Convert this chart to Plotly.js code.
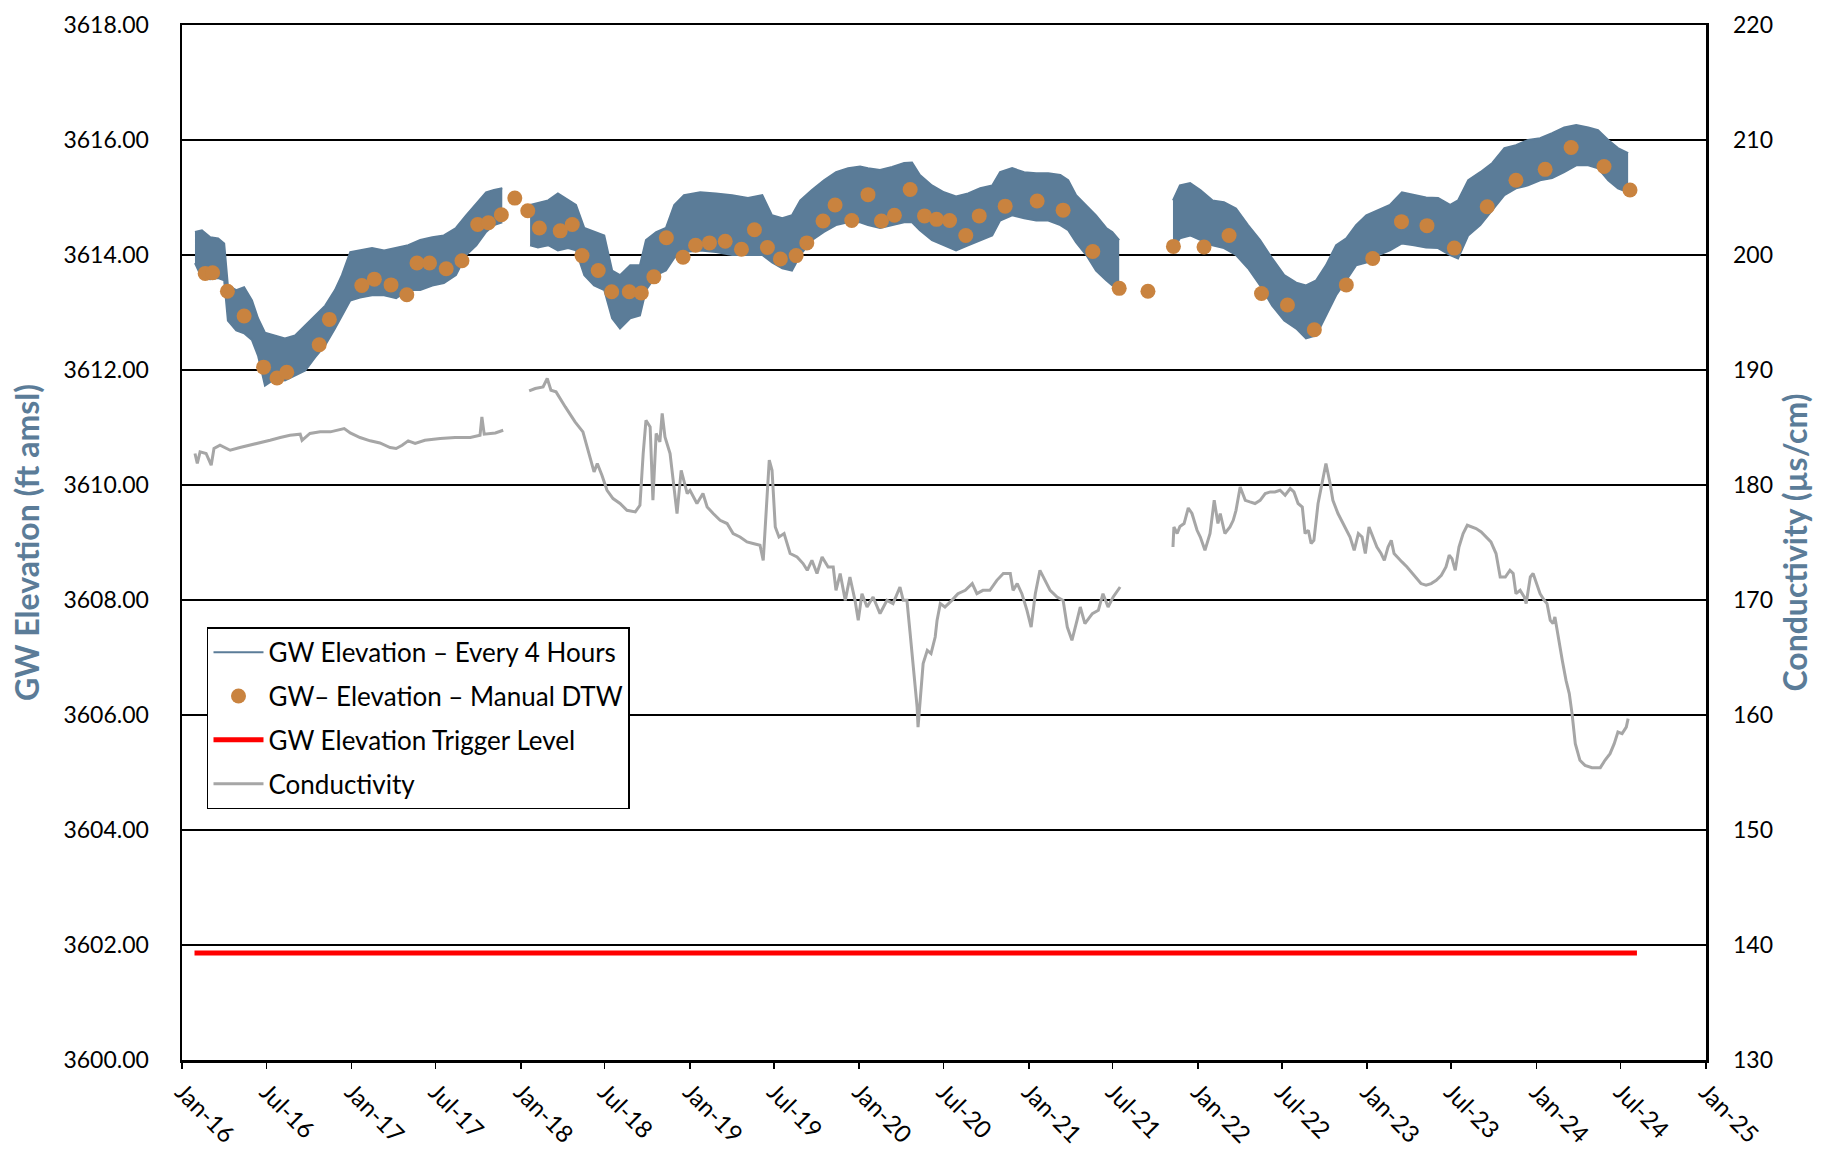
<!DOCTYPE html>
<html>
<head>
<meta charset="utf-8">
<script src="https://cdn.plot.ly/plotly-3.0.1.min.js"></script>
<style>html,body{margin:0;padding:0;background:#fff;}#chart{width:1832px;height:1152px;}</style>
</head>
<body>
<div id="chart"></div>
<script>
// ---- GW elevation every 4 hours: envelope (daily high / low) per continuous logger segment ----
const gwSeg1Dates = ['2016-01-29','2016-02-13','2016-03-02','2016-03-19','2016-04-01','2016-04-09','2016-04-27','2016-05-14','2016-05-31','2016-06-13','2016-06-28','2016-07-20','2016-08-10','2016-09-01','2016-09-23','2016-10-14','2016-11-05','2016-11-26','2016-12-11','2016-12-29','2017-01-19','2017-02-14','2017-03-12','2017-04-07','2017-05-03','2017-05-29','2017-06-24','2017-07-19','2017-08-14','2017-09-05','2017-09-27','2017-10-18','2017-11-04','2017-11-22'];
const gwSeg1High = [3614.40,3614.43,3614.31,3614.29,3614.20,3613.47,3613.39,3613.44,3613.21,3612.90,3612.65,3612.60,3612.55,3612.60,3612.78,3612.95,3613.12,3613.39,3613.65,3614.05,3614.08,3614.12,3614.08,3614.13,3614.17,3614.26,3614.31,3614.34,3614.47,3614.69,3614.90,3615.09,3615.13,3615.16];
const gwSeg1Low  = [3613.86,3613.60,3613.58,3613.60,3613.56,3612.86,3612.69,3612.64,3612.52,3612.25,3611.73,3611.85,3611.82,3611.90,3611.99,3612.22,3612.43,3612.72,3612.95,3613.21,3613.26,3613.30,3613.30,3613.25,3613.39,3613.39,3613.47,3613.51,3613.65,3614.00,3614.17,3614.40,3614.52,3614.57];

const gwSeg2Dates = ['2018-01-21','2018-02-07','2018-03-01','2018-03-22','2018-04-13','2018-04-30','2018-05-18','2018-06-08','2018-06-30','2018-07-17','2018-08-03','2018-08-25','2018-09-15','2018-09-28','2018-10-20','2018-11-10','2018-11-28','2018-12-19','2019-01-23','2019-02-26','2019-04-02','2019-05-06','2019-06-06','2019-06-27','2019-07-19','2019-08-09','2019-08-27','2019-09-21','2019-10-17','2019-11-12','2019-12-08','2020-01-03','2020-01-20','2020-02-15','2020-03-12','2020-04-07','2020-04-24','2020-05-11','2020-06-06','2020-07-02','2020-07-28','2020-08-23','2020-09-18','2020-10-14','2020-10-31','2020-11-26','2020-12-22','2021-01-17','2021-02-12','2021-03-10','2021-03-27','2021-04-13','2021-05-05','2021-05-26','2021-06-17','2021-06-30','2021-07-15'];
const gwSeg2High = [3614.87,3614.90,3614.95,3615.07,3614.95,3614.87,3614.47,3614.40,3614.34,3613.73,3613.65,3613.82,3613.82,3614.26,3614.40,3614.47,3614.87,3615.04,3615.09,3615.07,3615.04,3614.99,3615.04,3614.69,3614.64,3614.69,3614.95,3615.13,3615.30,3615.44,3615.51,3615.54,3615.51,3615.48,3615.53,3615.60,3615.61,3615.39,3615.21,3615.09,3615.02,3615.07,3615.16,3615.21,3615.44,3615.51,3615.44,3615.42,3615.42,3615.39,3615.30,3615.04,3614.87,3614.69,3614.47,3614.40,3614.26];
const gwSeg2Low  = [3614.17,3614.13,3614.17,3614.08,3614.12,3614.08,3613.65,3613.47,3613.39,3612.90,3612.72,3612.90,3612.95,3613.39,3613.65,3613.73,3613.95,3614.05,3614.08,3614.05,3614.00,3614.00,3614.00,3613.87,3613.77,3613.73,3614.00,3614.26,3614.40,3614.52,3614.57,3614.57,3614.52,3614.47,3614.52,3614.57,3614.57,3614.43,3614.26,3614.17,3614.08,3614.17,3614.26,3614.34,3614.60,3614.69,3614.64,3614.60,3614.60,3614.52,3614.43,3614.22,3614.00,3613.73,3613.56,3613.47,3613.51];

const gwSeg3Dates = ['2021-11-08','2021-11-23','2021-12-15','2022-01-06','2022-02-01','2022-02-26','2022-03-24','2022-04-19','2022-05-15','2022-06-10','2022-07-06','2022-08-01','2022-08-22','2022-09-13','2022-10-04','2022-10-26','2022-11-17','2022-12-08','2022-12-30','2023-01-25','2023-02-19','2023-03-17','2023-04-12','2023-05-08','2023-06-03','2023-06-29','2023-07-16','2023-08-07','2023-09-02','2023-09-28','2023-10-24','2023-11-18','2023-12-14','2024-01-09','2024-02-04','2024-03-01','2024-03-27','2024-04-22','2024-05-13','2024-06-04','2024-06-25','2024-07-17'];
const gwSeg3High = [3614.95,3615.21,3615.25,3615.13,3614.95,3614.92,3614.81,3614.52,3614.26,3613.94,3613.65,3613.52,3613.47,3613.56,3613.82,3614.17,3614.29,3614.52,3614.69,3614.78,3614.87,3615.09,3615.04,3615.00,3614.99,3614.87,3614.95,3615.30,3615.44,3615.60,3615.86,3615.91,3616.00,3616.03,3616.12,3616.22,3616.26,3616.22,3616.17,3616.00,3615.86,3615.77];
const gwSeg3Low  = [3614.08,3614.29,3614.34,3614.26,3614.17,3614.12,3614.00,3613.77,3613.47,3613.12,3612.86,3612.72,3612.55,3612.60,3612.95,3613.30,3613.56,3613.82,3613.87,3614.00,3614.08,3614.20,3614.17,3614.13,3614.12,3614.00,3613.94,3614.34,3614.52,3614.78,3615.04,3615.16,3615.21,3615.30,3615.34,3615.44,3615.56,3615.56,3615.51,3615.30,3615.16,3615.09];

// ---- Manual depth-to-water elevations ----
const manualDates = ['2016-02-20','2016-03-07','2016-04-08','2016-05-14','2016-06-25','2016-07-24','2016-08-14','2016-10-23','2016-11-14','2017-01-23','2017-02-19','2017-03-27','2017-04-30','2017-05-22','2017-06-18','2017-07-24','2017-08-27','2017-09-30','2017-10-23','2017-11-20','2017-12-19','2018-01-16','2018-02-10','2018-03-27','2018-04-22','2018-05-13','2018-06-17','2018-07-16','2018-08-23','2018-09-18','2018-10-15','2018-11-11','2018-12-17','2019-01-13','2019-02-12','2019-03-18','2019-04-22','2019-05-20','2019-06-17','2019-07-15','2019-08-18','2019-09-10','2019-10-15','2019-11-10','2019-12-16','2020-01-20','2020-02-18','2020-03-17','2020-04-20','2020-05-21','2020-06-16','2020-07-14','2020-08-18','2020-09-16','2020-11-11','2021-01-19','2021-03-16','2021-05-19','2021-07-15','2021-09-15','2021-11-09','2022-01-14','2022-03-09','2022-05-18','2022-07-13','2022-09-09','2022-11-17','2023-01-13','2023-03-16','2023-05-10','2023-07-08','2023-09-17','2023-11-18','2024-01-20','2024-03-16','2024-05-26','2024-07-21'];
const manualElev = [3613.68,3613.69,3613.37,3612.94,3612.05,3611.86,3611.96,3612.44,3612.88,3613.47,3613.58,3613.48,3613.31,3613.86,3613.86,3613.76,3613.90,3614.53,3614.56,3614.70,3614.99,3614.77,3614.47,3614.42,3614.53,3613.99,3613.73,3613.36,3613.36,3613.34,3613.62,3614.30,3613.96,3614.17,3614.21,3614.24,3614.10,3614.44,3614.13,3613.93,3613.99,3614.21,3614.59,3614.87,3614.60,3615.05,3614.59,3614.69,3615.14,3614.68,3614.62,3614.60,3614.34,3614.68,3614.85,3614.94,3614.78,3614.06,3613.42,3613.37,3614.15,3614.14,3614.34,3613.33,3613.13,3612.70,3613.48,3613.94,3614.58,3614.51,3614.12,3614.84,3615.30,3615.49,3615.87,3615.54,3615.13];

// ---- Trigger level ----
const triggerDates = ['2016-01-28','2024-08-05'];
const triggerLevel = [3601.86, 3601.86];

// ---- Conductivity (µs/cm), right axis ----
const condDates = ['2016-01-29','2016-02-03','2016-02-09','2016-02-22','2016-03-04','2016-03-10','2016-03-23','2016-04-14','2016-05-05','2016-05-27','2016-06-17','2016-07-09','2016-07-31','2016-08-21','2016-09-12','2016-09-16','2016-10-03','2016-10-25','2016-11-16','2016-12-07','2016-12-16','2016-12-29','2017-01-19','2017-02-10','2017-03-03','2017-03-25','2017-04-07','2017-04-20','2017-05-03','2017-05-18','2017-06-08','2017-07-11','2017-08-12','2017-09-14','2017-10-05','2017-10-09','2017-10-14','2017-11-07','2017-11-24',
null,
'2018-01-19','2018-02-01','2018-02-18','2018-02-27','2018-03-07','2018-03-18','2018-04-07','2018-04-28','2018-05-15','2018-05-30','2018-06-08','2018-06-15','2018-06-25','2018-07-06','2018-07-19','2018-08-03','2018-08-18','2018-09-05','2018-09-15','2018-09-22','2018-09-28','2018-10-07','2018-10-13','2018-10-20','2018-10-28','2018-11-02','2018-11-08','2018-11-19','2018-11-28','2018-12-04','2018-12-13','2018-12-26','2019-01-01','2019-01-16','2019-01-29','2019-02-07','2019-02-20','2019-03-07','2019-03-22','2019-04-04','2019-04-19','2019-05-04','2019-05-17','2019-06-01','2019-06-08','2019-06-14','2019-06-21','2019-06-27','2019-07-04','2019-07-12','2019-07-23','2019-08-05','2019-08-20','2019-09-02','2019-09-11','2019-09-21','2019-10-02','2019-10-13','2019-10-26','2019-11-06','2019-11-12','2019-11-21','2019-12-02','2019-12-12','2019-12-23','2019-12-30','2020-01-07','2020-01-18','2020-01-31','2020-02-15','2020-03-01','2020-03-14','2020-03-29','2020-04-05','2020-04-13','2020-04-20','2020-04-26','2020-05-05','2020-05-07','2020-05-14','2020-05-18','2020-05-27','2020-06-04','2020-06-13','2020-06-17','2020-06-24','2020-07-04','2020-07-19','2020-08-01','2020-08-17','2020-09-01','2020-09-11','2020-09-24','2020-10-09','2020-10-24','2020-11-07','2020-11-22','2020-11-28','2020-12-07','2020-12-17','2020-12-28','2021-01-06','2021-01-15','2021-01-25','2021-02-05','2021-02-16','2021-03-03','2021-03-16','2021-03-25','2021-04-04','2021-04-15','2021-04-22','2021-05-02','2021-05-18','2021-05-31','2021-06-10','2021-06-21','2021-07-02','2021-07-17',
null,
'2021-11-08','2021-11-10','2021-11-17','2021-11-23','2021-12-02','2021-12-11','2021-12-19','2021-12-30','2022-01-06','2022-01-16','2022-01-27','2022-02-05','2022-02-13','2022-02-18','2022-02-28','2022-03-11','2022-03-18','2022-03-24','2022-04-02','2022-04-13','2022-04-23','2022-05-04','2022-05-15','2022-05-26','2022-06-06','2022-06-16','2022-06-27','2022-07-08','2022-07-19','2022-07-27','2022-08-05','2022-08-14','2022-08-20','2022-08-27','2022-09-02','2022-09-08','2022-09-17','2022-09-24','2022-10-04','2022-10-13','2022-10-19','2022-10-30','2022-11-10','2022-11-19','2022-11-25','2022-12-04','2022-12-13','2022-12-21','2022-12-28','2023-01-05','2023-01-14','2023-01-22','2023-01-31','2023-02-07','2023-02-15','2023-02-22','2023-02-28','2023-03-09','2023-03-17','2023-03-28','2023-04-06','2023-04-17','2023-04-27','2023-05-08','2023-05-19','2023-05-30','2023-06-10','2023-06-20','2023-06-27','2023-07-03','2023-07-10','2023-07-18','2023-07-27','2023-08-05','2023-08-13','2023-08-24','2023-09-04','2023-09-15','2023-09-25','2023-10-06','2023-10-15','2023-10-26','2023-11-05','2023-11-12','2023-11-18','2023-11-27','2023-12-06','2023-12-10','2023-12-19','2023-12-25','2024-01-03','2024-01-09','2024-01-18','2024-01-24','2024-01-31','2024-02-06','2024-02-10','2024-02-17','2024-02-26','2024-03-05','2024-03-12','2024-03-18','2024-03-25','2024-04-04','2024-04-15','2024-04-30','2024-05-18','2024-05-28','2024-06-08','2024-06-17','2024-06-25','2024-07-04','2024-07-13','2024-07-17'];
const condValues = [182.74,181.87,182.88,182.74,181.72,183.17,183.46,183.02,183.26,183.46,183.66,183.89,184.13,184.33,184.42,183.89,184.48,184.62,184.62,184.82,184.91,184.53,184.13,183.84,183.66,183.26,183.17,183.46,183.84,183.61,183.89,184.04,184.13,184.13,184.33,185.92,184.42,184.53,184.76,
null,
188.18,188.39,188.53,189.26,188.24,188.10,186.79,185.49,184.62,182.44,181.14,181.87,180.85,179.54,178.82,178.39,177.80,177.66,178.24,182.74,185.63,185.05,178.67,184.48,183.75,186.22,184.18,182.74,179.54,177.52,181.28,179.26,179.54,178.39,179.26,178.09,177.52,176.93,176.65,175.78,175.48,175.05,174.91,174.76,173.45,177.52,182.16,181.28,176.35,175.48,175.78,174.04,173.74,173.17,172.58,173.45,172.30,173.74,172.87,172.87,170.84,172.30,169.97,172.00,169.97,168.23,170.55,169.39,170.26,168.82,169.97,169.69,171.13,169.97,169.97,167.08,164.75,160.69,158.95,162.43,164.47,165.62,165.34,166.78,168.23,169.69,169.39,169.97,170.55,170.84,171.43,170.55,170.84,170.84,171.71,172.30,172.30,170.84,171.43,170.55,169.10,167.65,170.55,172.58,171.71,170.84,170.26,169.97,167.65,166.49,168.23,169.39,167.95,168.82,169.10,170.55,169.39,170.26,171.13,
null,
174.61,176.35,175.78,176.40,176.65,178.00,177.52,176.06,175.48,174.32,175.78,178.67,176.65,177.52,175.78,176.35,176.93,177.80,179.83,178.67,178.53,178.39,178.67,179.26,179.40,179.40,179.54,179.11,179.69,179.40,178.39,178.09,175.78,176.06,174.91,175.19,178.39,179.83,181.87,180.13,178.67,177.52,176.65,176.06,175.48,174.32,175.78,175.48,174.04,176.35,175.48,174.61,174.04,173.45,174.61,175.19,174.04,173.60,173.31,172.87,172.44,172.00,171.43,171.28,171.43,171.71,172.15,172.87,173.89,173.60,172.58,174.61,175.78,176.50,176.35,176.21,175.92,175.48,175.05,174.04,172.00,172.00,172.58,172.30,170.55,170.84,170.26,169.69,172.00,172.30,171.13,170.55,169.97,169.69,168.23,167.95,168.52,166.78,164.75,163.01,161.86,160.12,157.51,156.06,155.62,155.42,155.42,156.06,156.64,157.51,158.52,158.38,158.95,159.68];

// ---- Axis / tick settings ----
const leftTickStep = 2, rightTickStep = 10;

const BLUE = '#5B7C98', ORANGE = '#C9833F', GREY = '#A6A6A6', RED = '#FF0000';
const FONT = 'Lato, "Noto Sans", sans-serif';

const traces = [];
const segs = [[gwSeg1Dates, gwSeg1High, gwSeg1Low],[gwSeg2Dates, gwSeg2High, gwSeg2Low],[gwSeg3Dates, gwSeg3High, gwSeg3Low]];
segs.forEach((s, i) => {
  traces.push({x: s[0], y: s[2], type: 'scatter', mode: 'lines', name: 'GW Elevation \u2013 Every 4 Hours',
    line: {color: BLUE, width: 2}, legendgroup: 'gw', showlegend: i === 0, hoverinfo: 'skip'});
  traces.push({x: s[0], y: s[1], type: 'scatter', mode: 'lines', fill: 'tonexty', fillcolor: BLUE,
    line: {color: BLUE, width: 2}, legendgroup: 'gw', showlegend: false, hoverinfo: 'skip'});
});
traces.push({x: manualDates, y: manualElev, type: 'scatter', mode: 'markers', name: 'GW\u2013 Elevation \u2013 Manual DTW',
  marker: {color: ORANGE, size: 15}, legendgroup: 'm'});
traces.push({x: triggerDates, y: triggerLevel, type: 'scatter', mode: 'lines', name: 'GW Elevation Trigger Level',
  line: {color: RED, width: 5}, legendgroup: 't'});
traces.push({x: condDates, y: condValues, type: 'scatter', mode: 'lines', name: 'Conductivity', yaxis: 'y2',
  line: {color: GREY, width: 3}, connectgaps: false, legendgroup: 'c'});

const layout = {
  width: 1832, height: 1152,
  margin: {l: 182, r: 126, t: 25, b: 92, pad: 0},
  paper_bgcolor: '#fff', plot_bgcolor: '#fff',
  font: {family: FONT, size: 23, color: '#000'},
  showlegend: true,
  xaxis: {type: 'date', range: ['2016-01-01', '2025-01-01'], tick0: '2016-01-01', dtick: 'M6', tickformat: '%b-%y',
    tickangle: 45, ticks: 'outside', ticklen: 6, tickwidth: 1.5, tickcolor: '#000',
    showline: true, linecolor: '#000', linewidth: 2.5, mirror: true, showgrid: false, zeroline: false,
    tickfont: {size: 24}},
  yaxis: {range: [3600, 3618], dtick: leftTickStep, tick0: 3600, tickformat: '.2f', showgrid: true, gridcolor: '#000', gridwidth: 2,
    showline: true, linecolor: '#000', linewidth: 2.5, mirror: true, zeroline: false, ticks: '', ticklabelstandoff: 26,
    tickfont: {size: 23},
    title: {text: 'GW Elevation (ft amsl)', font: {size: 32, color: BLUE, weight: 'bold'}, standoff: 14}},
  yaxis2: {overlaying: 'y', side: 'right', range: [130, 220], dtick: rightTickStep, tick0: 130, showgrid: false, zeroline: false,
    showline: false, ticks: '', ticklabelstandoff: 26, tickfont: {size: 23},
    title: {text: 'Conductivity (\u00b5s/cm)', font: {size: 32, color: BLUE, weight: 'bold'}, standoff: 12}},
  legend: {x: 0.0164, y: 0.418, xanchor: 'left', yanchor: 'top', bgcolor: '#fff', bordercolor: '#000', borderwidth: 1.5,
    font: {size: 26}, traceorder: 'grouped', tracegroupgap: 7, itemwidth: 50}
};

Plotly.newPlot('chart', traces, layout, {displayModeBar: false, staticPlot: true});
</script>
</body>
</html>
